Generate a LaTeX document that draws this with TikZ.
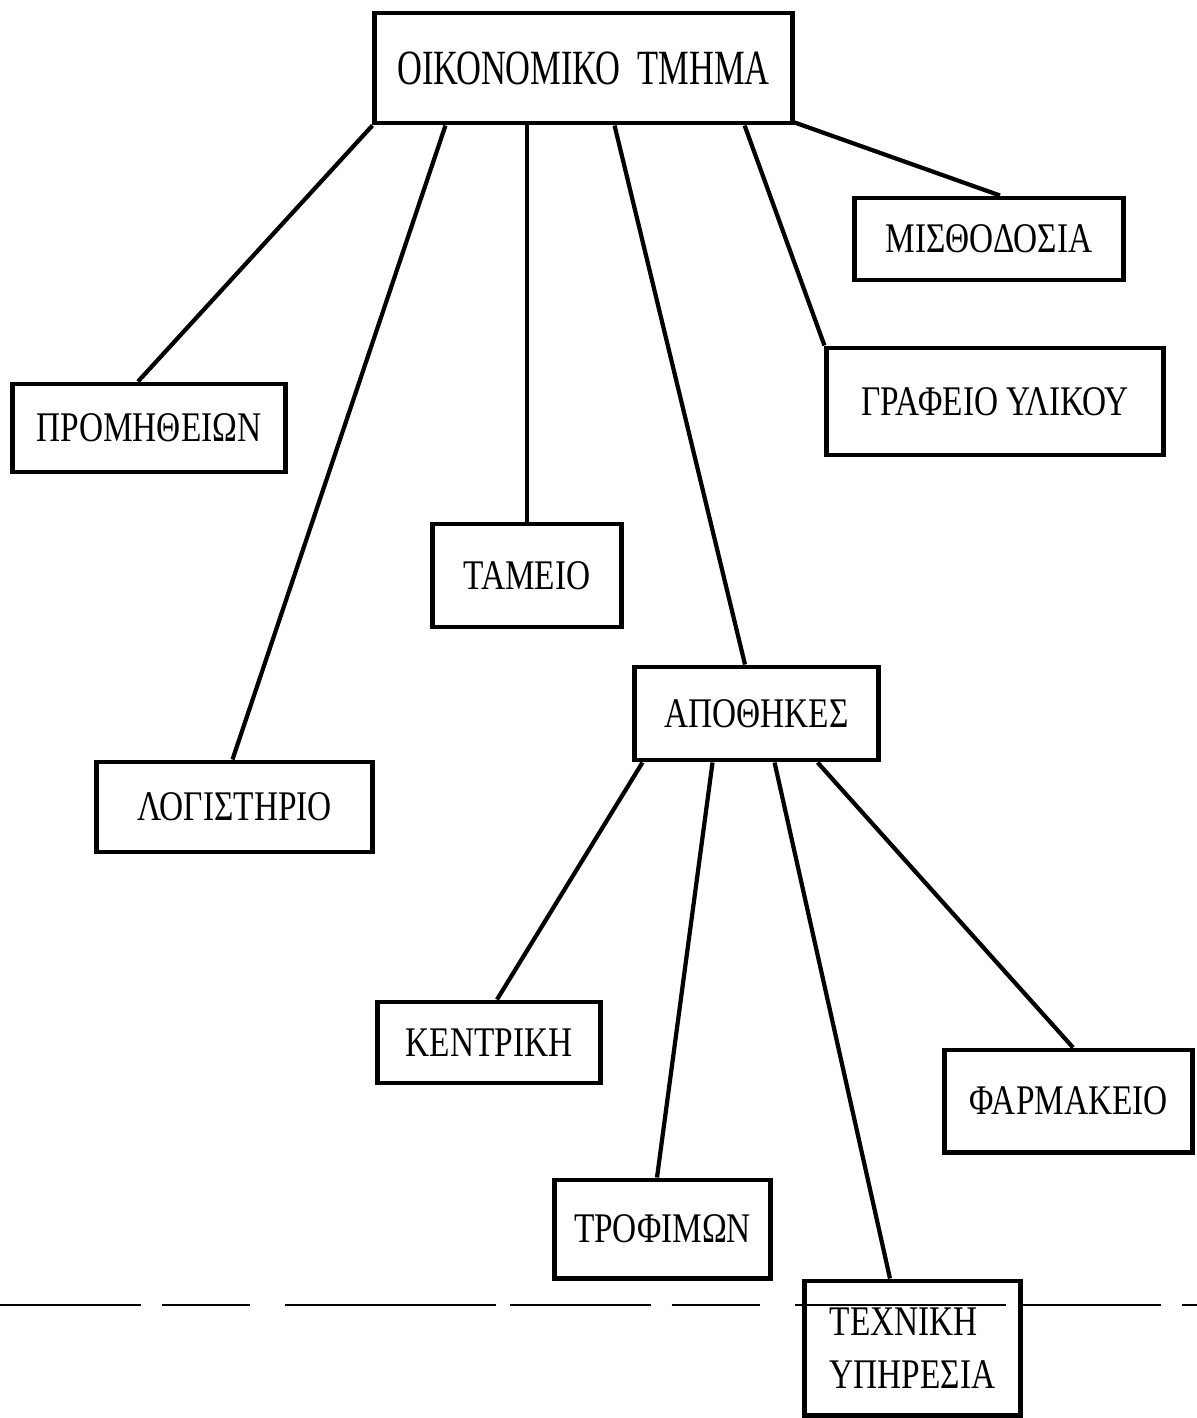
\documentclass[tikz,border=0pt]{standalone}
\usepackage{fontspec}
\setmainfont{Liberation Serif}[FakeStretch=0.79]
\newfontfamily\headfont{Liberation Serif}[FakeStretch=0.70]
\usepackage{tikz}
\usetikzlibrary{calc, positioning}
\tikzset{
    unit/.style={rectangle, draw=black, line width=1.4pt, align=center, inner sep=2pt, font=\fontsize{12}{15}\selectfont},
    head/.style={unit, font=\headfont\fontsize{14}{16}\selectfont},
    link/.style={line width=1.2pt},
    foldline/.style={line width=0.5pt, dash pattern=on 40pt off 6pt on 25pt off 10pt on 60pt off 4pt}
}
\begin{document}
\begin{tikzpicture}[x=0.01cm, y=-0.01cm]
        \useasboundingbox (0,0) rectangle (1197,1418);

        % Top
        \node[head, minimum width=4.17cm, minimum height=1.10cm] (fin) at (583.5,68) {ΟΙΚΟΝΟΜΙΚΟ\ \ ΤΜΗΜΑ};

        % Level 1
        \node[unit, minimum width=2.72cm, minimum height=0.88cm] (prom) at (149,428) {ΠΡΟΜΗΘΕΙΩΝ};
        \node[unit, minimum width=2.75cm, minimum height=0.90cm] (logist) at (234.5,807) {ΛΟΓΙΣΤΗΡΙΟ};
        \node[unit, minimum width=1.89cm, minimum height=1.03cm] (tameio) at (527,575.5) {ΤΑΜΕΙΟ};
        \node[unit, minimum width=2.43cm, minimum height=0.93cm] (apoth) at (756.5,713.5) {ΑΠΟΘΗΚΕΣ};
        \node[unit, minimum width=3.36cm, minimum height=1.07cm] (grafeio) at (995,401.5) {ΓΡΑΦΕΙΟ ΥΛΙΚΟΥ};
        \node[unit, minimum width=2.68cm, minimum height=0.82cm] (misth) at (989,239) {ΜΙΣΘΟΔΟΣΙΑ};

        % Level 2
        \node[unit, minimum width=2.22cm, minimum height=0.81cm] (kentr) at (489,1042.5) {ΚΕΝΤΡΙΚΗ};
        \node[unit, minimum width=2.15cm, minimum height=0.98cm] (trof) at (662.5,1229) {ΤΡΟΦΙΜΩΝ};
        \node[unit, minimum width=2.15cm, minimum height=1.34cm, align=left] (texn) at (912.5,1348) {ΤΕΧΝΙΚΗ\\ΥΠΗΡΕΣΙΑ};
        \node[unit, minimum width=2.47cm, minimum height=1.02cm] (pharm) at (1068.5,1101) {ΦΑΡΜΑΚΕΙΟ};

        % Connections 1
        \draw[link] (fin.south west) -- ([xshift=-0.11cm]prom.north);
        \draw[link] ([xshift=0.73cm]fin.south west) -- ([xshift=-0.02cm]logist.north);
        \draw[link] (tameio.north) -- (tameio.north |- fin.south);
        \draw[link] ([xshift=2.42cm]fin.south west) -- ([xshift=-0.115cm]apoth.north);
        \draw[link] ([xshift=3.72cm]fin.south west) -- (grafeio.north west);
        \draw[link] ([yshift=0.03cm]fin.south east) -- ([xshift=0.11cm]misth.north);

        % Connections 2
        \draw[link] ([xshift=0.10cm]apoth.south west) -- ([xshift=0.08cm]kentr.north);
        \draw[link] ([xshift=0.80cm]apoth.south west) -- ([xshift=-0.055cm]trof.north);
        \draw[link] ([xshift=1.42cm]apoth.south west) -- ([xshift=-0.225cm]texn.north);
        \draw[link] ([xshift=1.85cm]apoth.south west) -- ([xshift=0.045cm]pharm.north);

        % fold
        \coordinate (foldL) at (0,1305);
        \coordinate (foldR) at (1197,1305);
        \draw[foldline] (foldL) -- (foldR);
    \end{tikzpicture}
\end{document}
